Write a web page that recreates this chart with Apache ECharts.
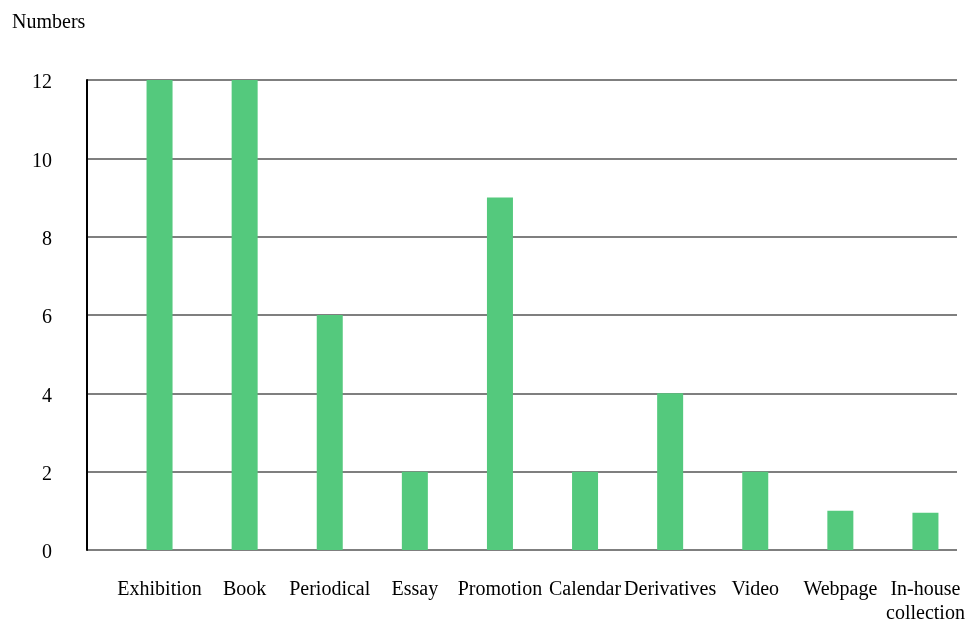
<!DOCTYPE html>
<html>
<head>
<meta charset="utf-8">
<script src="https://cdn.jsdelivr.net/npm/echarts@6/dist/echarts.min.js"></script>
<style>
html,body{margin:0;padding:0;background:#fff;}
#main{width:968px;height:622px;}
</style>
</head>
<body>
<div id="main"></div>
<script>
const categories = ['Exhibition','Book','Periodical','Essay','Promotion','Calendar','Derivatives','Video','Webpage','In-house\ncollection'];
const values = [12, 12, 6, 2, 9, 2, 4, 2, 1, 0.95];
const yTicks = [0, 2, 4, 6, 8, 10, 12];
const yTitle = 'Numbers';

const FONT = "'Liberation Serif', 'Times New Roman', serif";
const chart = echarts.init(document.getElementById('main'));
chart.setOption({
  animation: false,
  backgroundColor: '#fff',
  title: {
    text: yTitle, left: 7, top: 8,
    textStyle: {fontFamily: FONT, fontSize: 20, fontWeight: 'normal', color: '#000'}
  },
  grid: [
    {left: 87, right: 11, top: 80, bottom: 72, containLabel: false, outerBoundsMode: 'none'},
    {left: 117, right: 0, top: 80, bottom: 72, containLabel: false, outerBoundsMode: 'none'}
  ],
  xAxis: [
    {type: 'value', gridIndex: 0, min: 0, max: 1, show: true,
     axisLine: {show: false}, axisTick: {show: false}, axisLabel: {show: false}, splitLine: {show: false}},
    {type: 'category', gridIndex: 1, data: categories,
     axisLine: {show: false}, axisTick: {show: false},
     axisLabel: {interval: 0, margin: 28, fontFamily: FONT, fontSize: 20, color: '#000', lineHeight: 24, hideOverlap: false}}
  ],
  yAxis: [
    {type: 'value', gridIndex: 0, min: yTicks[0], max: yTicks[yTicks.length-1], interval: 2,
     axisLine: {show: true, lineStyle: {color: '#000', width: 2}},
     axisTick: {show: false},
     axisLabel: {margin: 35, formatter: '{a|{value}}',
       rich: {a: {fontFamily: FONT, fontSize: 20, color: '#000', padding: [6, 0, 0, 0]}}},
     splitLine: {show: true, lineStyle: {color: '#555', width: 1.5}}},
    {type: 'value', gridIndex: 1, min: yTicks[0], max: yTicks[yTicks.length-1], interval: 2,
     show: false, splitLine: {show: false}}
  ],
  series: [{
    type: 'bar', xAxisIndex: 1, yAxisIndex: 1, data: values, barWidth: 26,
    itemStyle: {color: '#54C97D'}
  }]
});
</script>
</body>
</html>
